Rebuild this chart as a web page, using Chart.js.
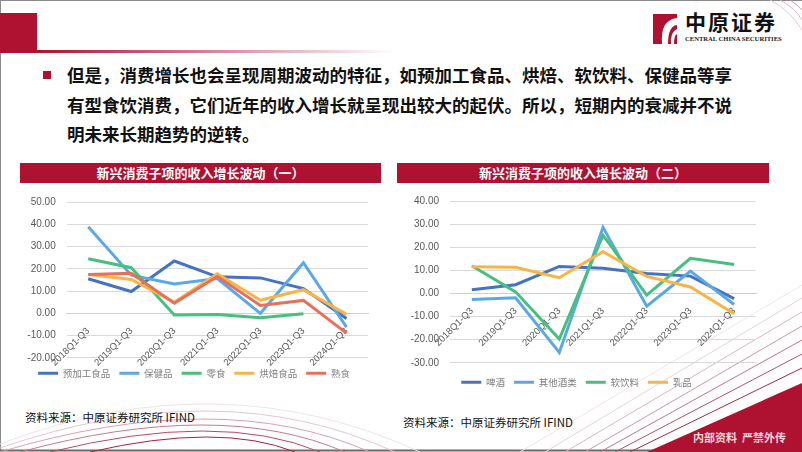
<!DOCTYPE html>
<html>
<head>
<meta charset="utf-8">
<script src="https://cdn.jsdelivr.net/npm/chart.js@4.4.1/dist/chart.umd.min.js"></script>
<style>
  body { margin: 0; background: #fff; }
  #slide { position: relative; width: 802px; height: 452px; overflow: hidden; background: #fff; font-family: "Noto Sans CJK SC", sans-serif; }
  #deco { position: absolute; left: 0; top: 0; }
  .line { position: absolute; left: 67px; font-size: 17.5px; font-weight: bold; color: #111; white-space: nowrap; line-height: 1; }
  .bar { position: absolute; top: 163px; height: 20px; background: #AE1230; color: #fff; font-weight: bold; font-size: 13px; line-height: 20px; text-align: center; }
  .source { position: absolute; font-size: 11.5px; color: #111; white-space: nowrap; line-height: 1; }
  canvas { position: absolute; }
</style>
</head>
<body>
<div id="slide">
  <svg id="deco" width="802" height="452">
    <defs>
      <linearGradient id="hl" x1="0" x2="1" y1="0" y2="0">
        <stop offset="0" stop-color="#AE1230"/>
        <stop offset="1" stop-color="#AE1230" stop-opacity="0"/>
      </linearGradient>
    </defs>
    <!-- frame -->
    <line x1="0" y1="0.5" x2="802" y2="0.5" stroke="#8a8a8a"/>
    <line x1="0.5" y1="0" x2="0.5" y2="451" stroke="#8a8a8a"/>
    <line x1="0" y1="450.5" x2="802" y2="450.5" stroke="#6a6a6a" stroke-width="2"/>
    <!-- header -->
    <rect x="0" y="13" width="37" height="40" fill="#AE1230"/>
    <rect x="37" y="50" width="360" height="3" fill="url(#hl)"/>
    <!-- top right arcs -->
    <path d="M770 0 Q 790 10 802 30" fill="none" stroke="#ecc9d0"/>
    <path d="M780 0 Q 795 8 802 20" fill="none" stroke="#e3b3be"/>
    <path d="M790 0 Q 798 5 802 10" fill="none" stroke="#d99aa8"/>
    <!-- logo -->
    <rect x="653" y="14" width="24" height="30" fill="#AE1230"/>
    <path d="M677 18 Q 660 20 662 44 L 668 44 Q 668 26 677 25 Z" fill="#fff"/>
    <path d="M677 29 Q 670 32 671 44 L 674 44 Q 674 35 677 34 Z" fill="#fff"/>
    <!-- bottom left arcs -->
    <path d="M0 444 Q 220 360 420 452" fill="none" stroke="#f0e2e6"/>
    <path d="M0 448 Q 220 372 395 452" fill="none" stroke="#e6c6ce"/>
    <path d="M0 452 Q 220 386 370 452" fill="none" stroke="#d8a2b0"/>
    <path d="M20 452 Q 220 398 345 452" fill="none" stroke="#c77a8d"/>
    <path d="M50 452 Q 220 410 320 452" fill="none" stroke="#b84a65"/>
    <path d="M90 452 Q 220 422 295 452" fill="none" stroke="#a8203f"/>
    <!-- bottom right diagonal lines -->
    <line x1="520" y1="452" x2="802" y2="285" stroke="#f1e4e7"/>
    <line x1="545" y1="452" x2="802" y2="298" stroke="#eacfd6"/>
    <line x1="565" y1="452" x2="802" y2="312" stroke="#dfb3be"/>
    <line x1="585" y1="452" x2="802" y2="326" stroke="#d095a4"/>
    <line x1="600" y1="452" x2="802" y2="340" stroke="#c17388"/>
    <line x1="615" y1="452" x2="802" y2="354" stroke="#b2506a"/>
    <line x1="630" y1="452" x2="802" y2="368" stroke="#a3294a"/>
    <polygon points="647,452 802,383 802,452" fill="#AE1230"/>
  </svg>

  <div style="position:absolute;left:685px;top:11px;font-size:21px;font-weight:bold;color:#111;letter-spacing:2px;line-height:1;">中原证券</div>
  <div style="position:absolute;left:685px;top:35px;font-family:'Liberation Serif',serif;font-size:6.6px;font-weight:bold;color:#222;white-space:nowrap;">CENTRAL CHINA SECURITIES</div>

  <div style="position:absolute;left:43px;top:71px;width:8px;height:8px;background:#AE1230;"></div>
  <div class="line" style="top:66px;">但是，消费增长也会呈现周期波动的特征，如预加工食品、烘焙、软饮料、保健品等享</div>
  <div class="line" style="top:96px;">有型食饮消费，它们近年的收入增长就呈现出较大的起伏。所以，短期内的衰减并不说</div>
  <div class="line" style="top:125px;">明未来长期趋势的逆转。</div>

  <div class="bar" style="left:20px;width:361px;">新兴消费子项的收入增长波动（一）</div>
  <div class="bar" style="left:397px;width:372px;">新兴消费子项的收入增长波动（二）</div>

  <canvas id="c1" width="365" height="198" style="left:20px;top:190px;"></canvas>
  <canvas id="c2" width="378" height="207" style="left:397px;top:190px;"></canvas>

  <div class="source" style="left:25px;top:412px;">资料来源：中原证券研究所 IFIND</div>
  <div class="source" style="left:403px;top:417px;">资料来源：中原证券研究所 IFIND</div>

  <div style="position:absolute;left:693px;top:432px;font-size:11px;font-weight:bold;color:#f3d6dc;white-space:nowrap;line-height:1;">内部资料&nbsp;&nbsp;严禁外传</div>
</div>

<script>
// categories shared by both charts
const categories = ['2018Q1-Q3', '2019Q1-Q3', '2020Q1-Q3', '2021Q1-Q3', '2022Q1-Q3', '2023Q1-Q3', '2024Q1-Q3'];

// chart 1 series
const prepFood = [15.5, 9.8, 23.5, 16.4, 15.9, 11.1, -2.3];
const healthFood = [38.9, 17.1, 13.2, 15.6, 0.0, 22.7, -6.2];
const snacks = [24.5, 20.5, -0.8, -0.5, -2.0, -0.2, null];
const bakery = [17.4, 15.2, 5.0, 17.7, 5.9, 10.6, -0.5];
const deli = [17.4, 18.0, 4.5, 16.5, 3.5, 5.8, -8.9];

// chart 2 series
const beer = [1.6, 3.8, 11.7, 10.9, 8.6, 7.5, -2.2];
const otherLiquor = [-2.6, -1.9, -25.5, 28.6, -5.5, 9.7, -4.8];
const softDrinks = [12.0, 0.7, -19.7, 25.2, -0.7, 15.2, 12.5];
const dairy = [11.6, 11.3, 6.8, 18.1, 7.4, 2.8, -8.8];

// axis ticks
const yTicks1 = [-20, -10, 0, 10, 20, 30, 40, 50];
const yTicks2 = [-30, -20, -10, 0, 10, 20, 30, 40];

const BLUE = '#4472C4';
const LIGHT_BLUE = '#5AA9E6';
const GREEN = '#45C07E';
const ORANGE = '#F9B445';
const CORAL = '#E8705A';

Chart.defaults.font.family = "'Liberation Sans', sans-serif";

function makeSet(label, data, color, i, n) {
  return {
    label: label,
    data: data,
    borderColor: color,
    backgroundColor: color,
    borderWidth: 3,
    pointRadius: 0,
    tension: 0,
    spanGaps: false,
    order: n - i
  };
}

function makeOptions(yTicks, pad, yWidth, titleSize) {
  return {
    responsive: false,
    animation: false,
    layout: { padding: pad },
    plugins: {
      tooltip: { enabled: false },
      legend: {
        position: 'bottom',
        title: { display: true, text: ' ', padding: 0, font: { size: titleSize } },
        labels: {
          boxWidth: 20,
          boxHeight: 3,
          padding: 9,
          color: '#7f7f7f',
          font: { size: 9.5, family: "'Noto Sans CJK SC', sans-serif" },
          sort: (a, b) => a.datasetIndex - b.datasetIndex,
          generateLabels: chart => Chart.defaults.plugins.legend.labels.generateLabels(chart)
            .map(l => Object.assign(l, { lineWidth: 0 }))
        }
      }
    },
    scales: {
      x: {
        offset: true,
        position: { y: 0 },
        grid: { display: false, offset: true },
        border: { display: true, color: '#d0d0d0', width: 1 },
        ticks: {
          color: '#595959',
          font: { size: 9.5 },
          minRotation: 45,
          maxRotation: 45,
          autoSkip: false,
          padding: 4
        }
      },
      y: {
        min: yTicks[0],
        max: yTicks[yTicks.length - 1],
        afterBuildTicks: s => { s.ticks = yTicks.map(v => ({ value: v })); },
        afterFit: s => { s.width = yWidth; },
        grid: { color: '#d9d9d9', drawTicks: true, tickLength: 9, tickColor: 'rgba(0,0,0,0)' },
        border: { display: false },
        ticks: {
          color: '#595959',
          font: { size: 10 },
          padding: 2,
          callback: v => v.toFixed(2)
        }
      }
    }
  };
}

const names1 = ['预加工食品', '保健品', '零食', '烘焙食品', '熟食'];
const series1 = [prepFood, healthFood, snacks, bakery, deli];
const colors1 = [BLUE, LIGHT_BLUE, GREEN, ORANGE, CORAL];

new Chart(document.getElementById('c1'), {
  type: 'line',
  data: {
    labels: categories,
    datasets: series1.map((d, i) => makeSet(names1[i], d, colors1[i], i, series1.length))
  },
  options: makeOptions(yTicks1, { top: 12, right: 17, left: 0, bottom: 0 }, 46.7, 1.4)
});

const names2 = ['啤酒', '其他酒类', '软饮料', '乳品'];
const series2 = [beer, otherLiquor, softDrinks, dairy];
const colors2 = [BLUE, LIGHT_BLUE, GREEN, ORANGE];

new Chart(document.getElementById('c2'), {
  type: 'line',
  data: {
    labels: categories,
    datasets: series2.map((d, i) => makeSet(names2[i], d, colors2[i], i, series2.length))
  },
  options: makeOptions(yTicks2, { top: 11, right: 19, left: 0, bottom: 0 }, 53, 4.75)
});
</script>
</body>
</html>
